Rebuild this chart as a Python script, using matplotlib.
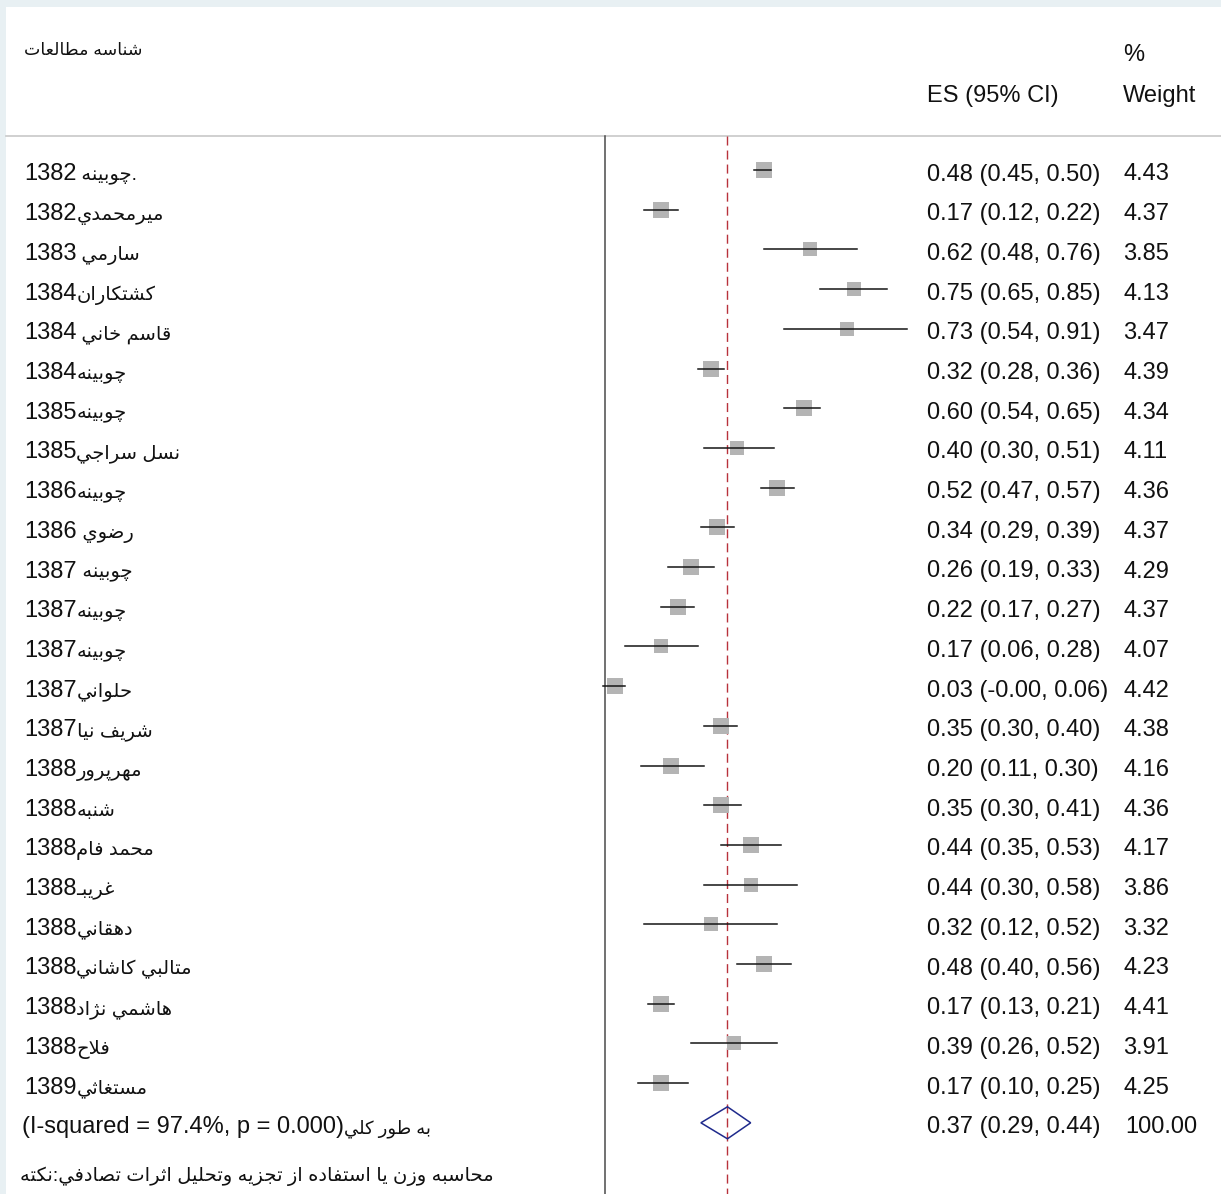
import matplotlib
matplotlib.use("Agg")
import matplotlib.pyplot as plt
from matplotlib import font_manager as fm
from matplotlib.patches import Polygon, Rectangle
from matplotlib.transforms import blended_transform_factory
import numpy as np

# ---------------- data ----------------
names = [".چوبينه ", "ميرمحمدي", "سارمي ", "كشتكاران", "قاسم خاني ", "چوبينه",
         "چوبينه", "نسل سراجي", "چوبينه", "رضوي ", "چوبينه ", "چوبينه", "چوبينه",
         "حلواني", "شريف نيا", "مهرپرور", "شنبه", "محمد فام", "غريبـ", "دهقاني",
         "متالبي كاشاني", "هاشمي نژاد", "فلاح", "مستغاثي"]
years = [1382, 1382, 1383, 1384, 1384, 1384, 1385, 1385, 1386, 1386, 1387, 1387,
         1387, 1387, 1387, 1388, 1388, 1388, 1388, 1388, 1388, 1388, 1388, 1389]
es = [0.48, 0.17, 0.62, 0.75, 0.73, 0.32, 0.60, 0.40, 0.52, 0.34, 0.26, 0.22,
      0.17, 0.03, 0.35, 0.20, 0.35, 0.44, 0.44, 0.32, 0.48, 0.17, 0.39, 0.17]
ci_lo = [0.45, 0.12, 0.48, 0.65, 0.54, 0.28, 0.54, 0.30, 0.47, 0.29, 0.19, 0.17,
         0.06, -0.004, 0.30, 0.11, 0.30, 0.35, 0.30, 0.12, 0.40, 0.13, 0.26, 0.10]
ci_hi = [0.50, 0.22, 0.76, 0.85, 0.91, 0.36, 0.65, 0.51, 0.57, 0.39, 0.33, 0.27,
         0.28, 0.06, 0.40, 0.30, 0.41, 0.53, 0.58, 0.52, 0.56, 0.21, 0.52, 0.25]
weights = [4.43, 4.37, 3.85, 4.13, 3.47, 4.39, 4.34, 4.11, 4.36, 4.37, 4.29, 4.37,
           4.07, 4.42, 4.38, 4.16, 4.36, 4.17, 3.86, 3.32, 4.23, 4.41, 3.91, 4.25]
overall_es, overall_lo, overall_hi, overall_w = 0.37, 0.29, 0.44, 100.00
overall_name = "به طور كلي"
overall_stats = "(I-squared = 97.4%, p = 0.000)"
header_study = "شناسه مطالعات"
header_es = "ES (95% CI)"
header_w1 = "%"
header_w2 = "Weight"
note_text = "محاسبه وزن يا استفاده از تجزيه وتحليل اثرات تصادفي:نكته"

# ---------------- minimal Arabic shaping (presentation forms) ----------------
FORMS = {
    'ا': ('\uFE8D', '\uFE8E'), 'آ': ('\uFE81', '\uFE82'),
    'ب': ('\uFE8F', '\uFE90', '\uFE91', '\uFE92'),
    'پ': ('\uFB56', '\uFB57', '\uFB58', '\uFB59'),
    'ت': ('\uFE95', '\uFE96', '\uFE97', '\uFE98'),
    'ث': ('\uFE99', '\uFE9A', '\uFE9B', '\uFE9C'),
    'ج': ('\uFE9D', '\uFE9E', '\uFE9F', '\uFEA0'),
    'چ': ('\uFB7A', '\uFB7B', '\uFB7C', '\uFB7D'),
    'ح': ('\uFEA1', '\uFEA2', '\uFEA3', '\uFEA4'),
    'خ': ('\uFEA5', '\uFEA6', '\uFEA7', '\uFEA8'),
    'د': ('\uFEA9', '\uFEAA'), 'ذ': ('\uFEAB', '\uFEAC'),
    'ر': ('\uFEAD', '\uFEAE'), 'ز': ('\uFEAF', '\uFEB0'),
    'ژ': ('\uFB8A', '\uFB8B'),
    'س': ('\uFEB1', '\uFEB2', '\uFEB3', '\uFEB4'),
    'ش': ('\uFEB5', '\uFEB6', '\uFEB7', '\uFEB8'),
    'ص': ('\uFEB9', '\uFEBA', '\uFEBB', '\uFEBC'),
    'ض': ('\uFEBD', '\uFEBE', '\uFEBF', '\uFEC0'),
    'ط': ('\uFEC1', '\uFEC2', '\uFEC3', '\uFEC4'),
    'ظ': ('\uFEC5', '\uFEC6', '\uFEC7', '\uFEC8'),
    'ع': ('\uFEC9', '\uFECA', '\uFECB', '\uFECC'),
    'غ': ('\uFECD', '\uFECE', '\uFECF', '\uFED0'),
    'ف': ('\uFED1', '\uFED2', '\uFED3', '\uFED4'),
    'ق': ('\uFED5', '\uFED6', '\uFED7', '\uFED8'),
    'ك': ('\uFED9', '\uFEDA', '\uFEDB', '\uFEDC'),
    'ل': ('\uFEDD', '\uFEDE', '\uFEDF', '\uFEE0'),
    'م': ('\uFEE1', '\uFEE2', '\uFEE3', '\uFEE4'),
    'ن': ('\uFEE5', '\uFEE6', '\uFEE7', '\uFEE8'),
    'ه': ('\uFEE9', '\uFEEA', '\uFEEB', '\uFEEC'),
    'و': ('\uFEED', '\uFEEE'),
    'ي': ('\uFEF1', '\uFEF2', '\uFEF3', '\uFEF4'),
    'ة': ('\uFE93', '\uFE94'),
}
LAMALEF = {'ا': ('\uFEFB', '\uFEFC'), 'آ': ('\uFEF5', '\uFEF6')}
TATWEEL = '\u0640'


def _joins_next(c):
    return c == TATWEEL or (c in FORMS and len(FORMS[c]) == 4)


def _joining(c):
    return c == TATWEEL or c in FORMS


def shape(s):
    out = []
    i, n = 0, len(s)
    while i < n:
        c = s[i]
        if c not in FORMS:
            out.append(c)
            i += 1
            continue
        prev = s[i - 1] if i > 0 else None
        cp = prev is not None and _joins_next(prev)
        if c == 'ل' and i + 1 < n and s[i + 1] in LAMALEF:
            lig = LAMALEF[s[i + 1]]
            out.append(lig[1] if cp else lig[0])
            i += 2
            continue
        nxt = s[i + 1] if i + 1 < n else None
        f = FORMS[c]
        cn = len(f) == 4 and nxt is not None and _joining(nxt)
        if cp and cn:
            out.append(f[3])
        elif cp:
            out.append(f[1])
        elif cn:
            out.append(f[2])
        else:
            out.append(f[0])
        i += 1
    return ''.join(out)


def rtl(s):
    return shape(s)[::-1]


# ---------------- fonts ----------------
available = {f.name for f in fm.fontManager.ttflist}
LATIN = 'Liberation Sans' if 'Liberation Sans' in available else 'DejaVu Sans'
FAM = [LATIN, 'DejaVu Sans']
plt.rcParams['font.family'] = FAM
FS = 17      # latin text
FS_AR = 14   # arabic text

# ---------------- layout (pixel mapping) ----------------
W, H = 1221, 1194
X0_PX, PX_PER_UNIT = 604.6, 332.0
ROW0_PX, ROW_PX = 170.0, 39.7


def row_of(py):
    return 1 + (py - ROW0_PX) / ROW_PX


fig = plt.figure(figsize=(W / 100, H / 100), dpi=100)
fig.patch.set_facecolor('#e8f0f3')
fig.add_artist(Rectangle((6 / W, 0), 1 - 6 / W, (H - 7) / H, transform=fig.transFigure,
                         facecolor='white', edgecolor='none', zorder=0))

ax = fig.add_axes([0, 0, 1, 1])
ax.set_facecolor('none')
ax.set_xlim(-X0_PX / PX_PER_UNIT, (W - X0_PX) / PX_PER_UNIT)
ax.set_ylim(row_of(H), row_of(0))
ax.axis('off')

bt = blended_transform_factory(ax.transAxes, ax.transData)
sep_row = row_of(136)
bottom_row = row_of(H)

# separator and reference lines
ax.axhline(sep_row, xmin=6 / W, xmax=1, color='#c8c8c8', lw=1.2, zorder=1)
ax.plot([0, 0], [sep_row, bottom_row], color='#4a4a4a', lw=1.1, zorder=1)
ax.plot([overall_es, overall_es], [sep_row, bottom_row], color='#b8323c', lw=1.0,
        linestyle=(0, (6.5, 3.6)), zorder=1)

rows = np.arange(1, len(es) + 1)
for r, e, l, h, w in zip(rows, es, ci_lo, ci_hi, weights):
    side_px = 15.5 * np.sqrt(w / 4.43)
    ax.plot([e], [r], marker='s', ms=side_px * 0.72, color='#b4b4b4',
            mec='#b4b4b4', mew=0, ls='none', zorder=2)
    ax.plot([l, h], [r, r], color='#151515', lw=1.1, zorder=3)

ov_row = len(es) + 1
dh = 16 / ROW_PX
ax.add_patch(Polygon([[overall_lo, ov_row], [overall_es, ov_row - dh],
                      [overall_hi, ov_row], [overall_es, ov_row + dh]],
                     closed=True, facecolor='none', edgecolor='#1f2a8c', lw=1.1, zorder=3))

# text
BASE = 10.5 / ROW_PX
LX, ESX, WX = 24 / W, 927 / W, 1123 / W
tkw = dict(transform=bt, fontsize=FS, va='baseline', ha='left', color='#111111')


def mixed(x, y, latin, arabic, ar_size=FS_AR):
    t = ax.text(x, y, latin, **tkw)
    ax.annotate(arabic, xy=(1, y), xycoords=(t, bt), va='baseline', ha='left',
                fontsize=ar_size, color='#111111')


for r, nm, yr, e, l, h, w in zip(rows, names, years, es, ci_lo, ci_hi, weights):
    mixed(LX, r + BASE, f"{yr}", rtl(nm))
    ax.text(ESX, r + BASE, f"{e:.2f} ({l:.2f}, {h:.2f})", **tkw)
    ax.text(WX, r + BASE, f"{w:.2f}", **tkw)

mixed(22 / W, ov_row + BASE, overall_stats, rtl(overall_name), ar_size=13)
ax.text(ESX, ov_row + BASE, f"{overall_es:.2f} ({overall_lo:.2f}, {overall_hi:.2f})", **tkw)
ax.text(WX + 2 / W, ov_row + BASE, f"{overall_w:.2f}", **tkw)

ax.text(24 / W, row_of(55), rtl(header_study), transform=bt, fontsize=12.5,
        va='baseline', ha='left', color='#111111')
ax.text(ESX, row_of(102), header_es, **tkw)
ax.text(WX, row_of(61), header_w1, **tkw)
ax.text(WX, row_of(102), header_w2, **tkw)

ax.text(20 / W, row_of(1181), rtl(note_text), transform=bt, fontsize=FS_AR,
        va='baseline', ha='left', color='#111111')

fig.savefig('out.png', dpi=100, facecolor=fig.get_facecolor())
